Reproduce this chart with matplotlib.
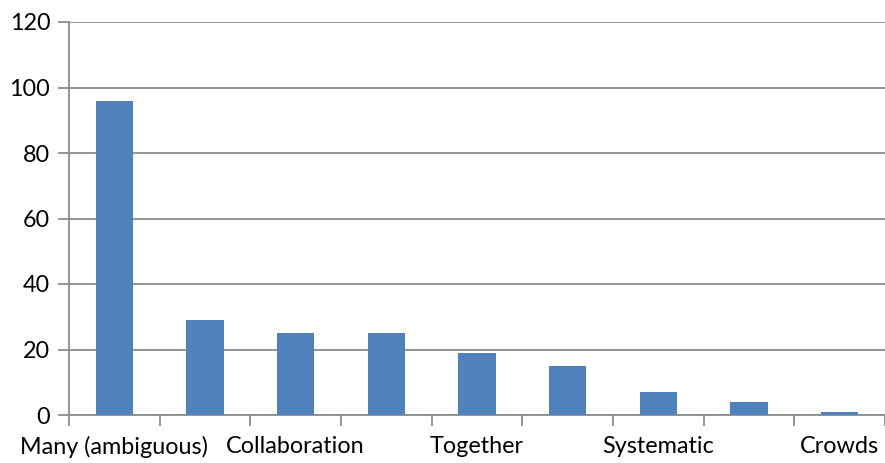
import matplotlib
matplotlib.use("Agg")
import matplotlib.pyplot as plt
import numpy as np

categories = ["Many (ambiguous)", "", "Collaboration", "", "Together", "", "Systematic", "", "Crowds"]
values = [96, 29, 25, 25, 19, 15, 7, 4, 1]
yticks = [0, 20, 40, 60, 80, 100, 120]

plt.rcParams['font.family'] = ['Lato', 'DejaVu Sans']

fig = plt.figure(figsize=(8.85, 4.63), dpi=100)
ax = fig.add_axes([69/885, 1-415/463, 816/885, (415-22)/463])

x = np.arange(len(values))
ax.bar(x, values, width=0.41, color="#4F81BD", zorder=3)

ax.set_xlim(-0.5, len(values) - 0.5)
ax.set_ylim(0, 120)
ax.set_yticks(yticks)
ax.set_yticklabels([str(v) for v in yticks], fontsize=16.8)
ax.yaxis.grid(True, color="#8C8C8C", linewidth=1.3, zorder=0)

ax.set_xticks(x)
ax.set_xticklabels(categories, fontsize=16.8)
ax.tick_params(axis='x', length=0, pad=15)
ax.set_xticks(np.arange(len(values) + 1) - 0.5, minor=True)
ax.tick_params(axis='x', which='minor', length=8, width=1.3, color="#8C8C8C")
ax.tick_params(axis='y', length=8, width=1.3, color="#8C8C8C", pad=5.5)

for s in ["top", "right"]:
    ax.spines[s].set_visible(False)
for s in ["left", "bottom"]:
    ax.spines[s].set_color("#8C8C8C")
    ax.spines[s].set_linewidth(1.3)

fig.savefig("out.png", dpi=100)
